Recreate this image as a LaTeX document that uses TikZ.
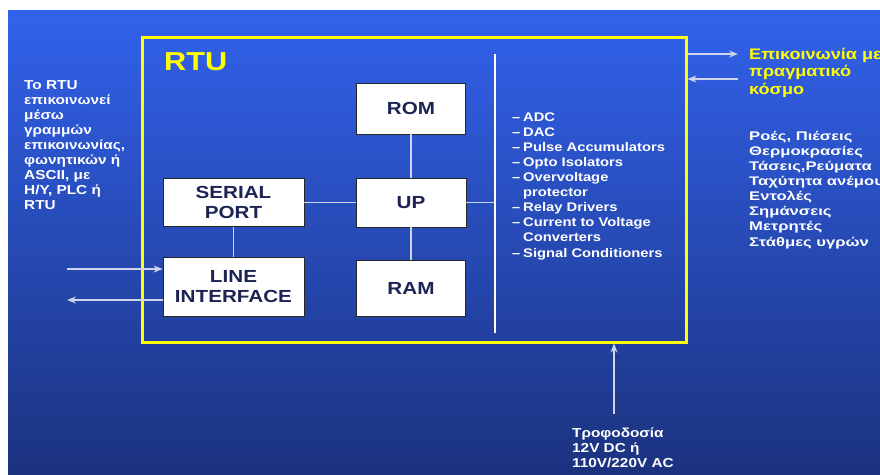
\documentclass[tikz,border=0pt]{standalone}
\usepackage{fontspec}
\setmainfont{Liberation Sans Bold}[FakeStretch=1.18]
\newfontfamily\widefont{Liberation Sans Bold}[FakeStretch=1.33]
\usetikzlibrary{arrows.meta}
\definecolor{bgtop}{RGB}{50,98,236}
\definecolor{bgbot}{RGB}{27,50,126}
\definecolor{rtuyellow}{RGB}{255,255,0}
\definecolor{boxtext}{RGB}{28,36,84}
\definecolor{wire}{RGB}{205,212,236}
\tikzset{
  block/.style={draw=black!85, line width=0.9pt, fill=white, text=boxtext,
    font=\fontsize{17.5}{20}\selectfont, align=center, inner sep=0pt},
  wireline/.style={draw=wire, line width=1.1pt},
  arr/.style={draw=wire, line width=1.2pt,
    -{Stealth[length=9pt,width=7pt,inset=3pt]}},
  txt/.style={text=white, font=\fontsize{12.5}{15.1}\selectfont, align=left,
    inner sep=0pt, anchor=base west},
}
\begin{document}
\begin{tikzpicture}[x=1pt,y=-1pt]
\useasboundingbox (0,0) rectangle (880,474);
% backdrop
\fill[white] (0,0) rectangle (880,474);
\shade[top color=bgtop, bottom color=bgbot] (8,10) rectangle (880,474);

% RTU enclosure
\node[draw=rtuyellow, line width=3pt, minimum width=544pt, minimum height=305pt,
      inner sep=0pt] (rtu) at (414,189.5) {};
\node[text=rtuyellow, font=\fontsize{26}{28}\selectfont, anchor=base west,
      inner sep=0pt] (rtulbl) at (164,70.5) {RTU};

% functional blocks
\node[block, minimum width=109pt, minimum height=51pt] (rom) at (411,108.5) {ROM};
\node[block, minimum width=110pt, minimum height=49pt] (up) at (411,202.5) {UP};
\node[block, minimum width=109pt, minimum height=56pt] (ram) at (411,288) {RAM};
\node[block, minimum width=141pt, minimum height=48pt] (serial) at (233.5,202.5) {SERIAL\\PORT};
\node[block, minimum width=141pt, minimum height=59pt] (line) at (233.5,286.5) {LINE\\INTERFACE};

% I/O bus
\coordinate (bustop) at (495,54);
\coordinate (busbot) at (495,333);
\draw[draw=white, line width=1.1pt] (bustop) -- (busbot);

% internal wiring
\draw[wireline] (rom.south) -- (up.north);
\draw[wireline] (up.south) -- (ram.north);
\draw[wireline] (serial.east) -- (up.west);
\draw[wireline] (serial.south) -- (line.north);
\draw[wireline] (up.east) -- (up.east -| bustop);

% communication lines
\coordinate (linein) at (67,269);
\coordinate (lineout) at (67,300);
\draw[arr] (linein) -- (linein -| line.west);
\draw[arr] (lineout -| line.west) -- (lineout);

% field connection
\coordinate (fieldout) at (738,54);
\coordinate (fieldin) at (738,79);
\draw[arr] (fieldout -| rtu.east) -- (fieldout);
\draw[arr] (fieldin) -- (fieldin -| rtu.east);

% power supply
\coordinate (pwr) at (614,414);
\draw[arr] (pwr) -- (pwr |- rtu.south);

% I/O modules list (anchored at the baseline of its last line)
\node[txt] (iolist) at (512,257) {%
\makebox[11pt][l]{–}ADC\\
\makebox[11pt][l]{–}DAC\\
\makebox[11pt][l]{–}Pulse Accumulators\\
\makebox[11pt][l]{–}Opto Isolators\\
\makebox[11pt][l]{–}Overvoltage\\
\hspace*{11pt}protector\\
\makebox[11pt][l]{–}Relay Drivers\\
\makebox[11pt][l]{–}Current to Voltage\\
\hspace*{11pt}Converters\\
\makebox[11pt][l]{–}Signal Conditioners};

% left description
\node[txt, font=\fontsize{13}{15}\selectfont] (commtxt) at (24,209) {%
Το RTU\\
επικοινωνεί\\
μέσω\\
γραμμών\\
επικοινωνίας,\\
φωνητικών ή\\
ASCII, με\\
Η/Υ, PLC ή\\
RTU};

% field side
\node[txt, text=rtuyellow, font=\fontsize{15.3}{17.3}\selectfont] (fieldtxt) at (749,94) {%
Επικοινωνία με\\
πραγματικό\\
κόσμο};
\node[txt, font=\widefont\fontsize{12.5}{15.1}\selectfont] (quant) at (749,246) {%
Ροές, Πιέσεις\\
Θερμοκρασίες\\
Τάσεις,Ρεύματα\\
Ταχύτητα ανέμου\\
Εντολές\\
Σημάνσεις\\
Μετρητές\\
Στάθμες υγρών};

% supply label
\node[txt, font=\fontsize{13}{15}\selectfont] (pwrtxt) at (572,467) {%
Τροφοδοσία\\
12V DC ή\\
110V/220V AC};
\end{tikzpicture}
\end{document}
